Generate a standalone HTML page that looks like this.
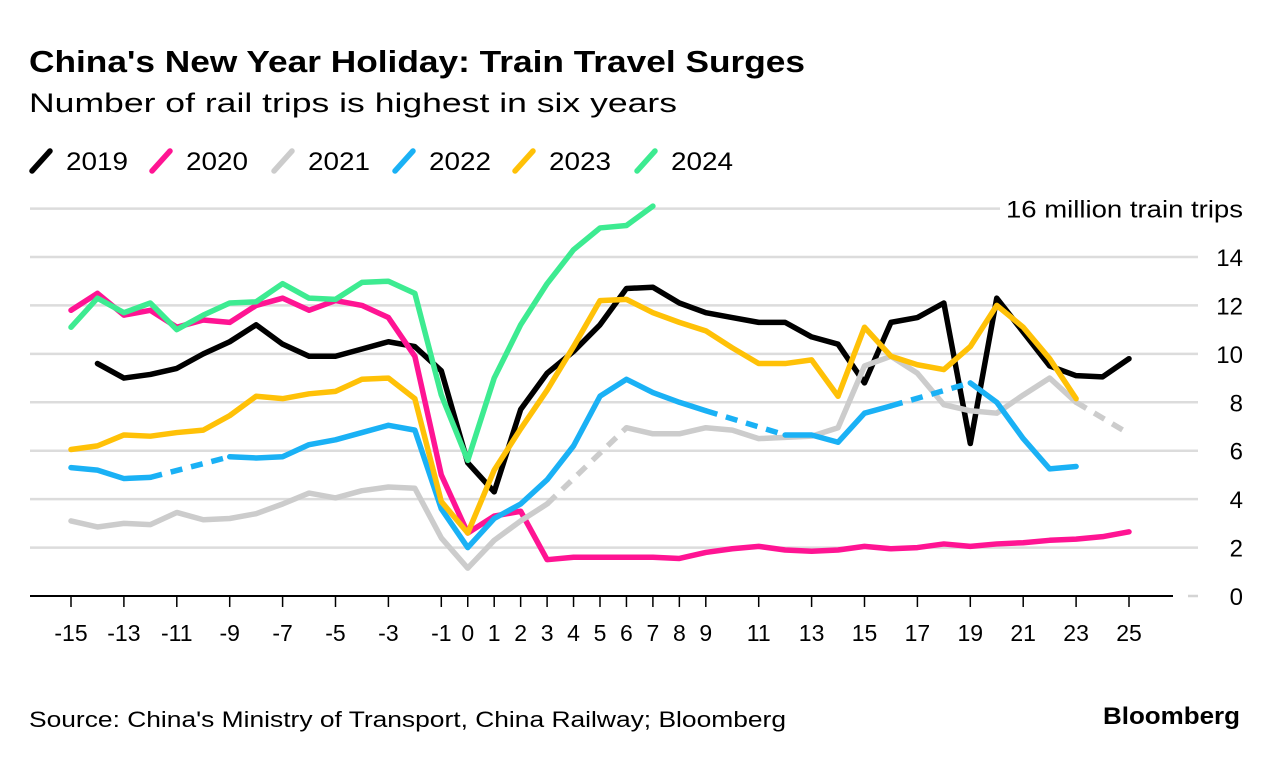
<!DOCTYPE html>
<html><head><meta charset="utf-8"><style>
body{margin:0;background:#fff;font-family:"Liberation Sans",sans-serif;}
#wrap{position:relative;width:1279px;height:760px;overflow:hidden;}
</style></head><body>
<div id="wrap">
<svg id="chart" width="1279" height="760" xmlns="http://www.w3.org/2000/svg">
<text x="29" y="72" font-size="31" font-weight="bold" fill="#000" textLength="776" lengthAdjust="spacingAndGlyphs">China's New Year Holiday: Train Travel Surges</text>
<text x="29" y="112" font-size="27" fill="#000" textLength="648" lengthAdjust="spacingAndGlyphs">Number of rail trips is highest in six years</text>
<g id="legend"></g>
<g id="grid"></g>
<g id="series"></g>
<g id="xaxis"></g>
<text x="29" y="727" font-size="22" fill="#000" textLength="757" lengthAdjust="spacingAndGlyphs">Source: China's Ministry of Transport, China Railway; Bloomberg</text>
<text x="1103" y="724" font-size="24" font-weight="bold" fill="#000" textLength="137" lengthAdjust="spacingAndGlyphs">Bloomberg</text>
</svg>
</div>
<script>
const days = [-15,-14,-13,-12,-11,-10,-9,-8,-7,-6,-5,-4,-3,-2,-1,0,1,2,3,4,5,6,7,8,9,10,11,12,13,14,15,16,17,18,19,20,21,22,23,24,25];
const yTicks = [0,2,4,6,8,10,12,14,16];
const xTickLabels = [-15,-13,-11,-9,-7,-5,-3,-1,0,1,2,3,4,5,6,7,8,9,11,13,15,17,19,21,23,25];
const seriesNames = ["2019","2020","2021","2022","2023","2024"];
const seriesColors = ["#000000","#ff1493","#cccccc","#1ab1f5","#ffc107","#3deb91"];
const s2019 = [null,9.6,9.0,9.15,9.4,10.0,10.5,11.2,10.4,9.9,9.9,10.2,10.5,10.3,9.3,5.5,4.3,7.7,9.2,10.1,11.2,12.7,12.75,12.1,11.7,11.5,11.3,11.3,10.7,10.4,8.8,11.3,11.5,12.1,6.3,12.3,10.9,9.5,9.1,9.05,9.8];
const s2020 = [11.8,12.5,11.6,11.8,11.1,11.4,11.3,12.0,12.3,11.8,12.2,12.0,11.5,9.9,5.0,2.6,3.3,3.5,1.5,1.6,1.6,1.6,1.6,1.55,1.8,1.95,2.05,1.9,1.85,1.9,2.05,1.95,2.0,2.15,2.05,2.15,2.2,2.3,2.35,2.45,2.65];
const s2021 = [3.1,2.85,3.0,2.95,3.45,3.15,3.2,3.4,3.8,4.25,4.05,4.35,4.5,4.45,2.4,1.15,2.3,3.1,3.8,null,null,6.95,6.7,6.7,6.95,6.85,6.5,6.55,6.6,6.95,9.5,9.9,9.2,7.9,7.65,7.55,8.3,9.0,8.0,null,6.7];
const s2022 = [5.3,5.2,4.85,4.9,null,null,5.75,5.7,5.75,6.25,6.45,6.75,7.05,6.85,3.6,2.0,3.2,3.8,4.8,6.2,8.25,8.95,8.4,8.0,7.65,null,null,6.65,6.65,6.35,7.55,7.85,null,null,8.8,8.0,6.5,5.25,5.35,null,null];
const s2023 = [6.05,6.2,6.65,6.6,6.75,6.85,7.45,8.25,8.15,8.35,8.45,8.95,9.0,8.15,3.9,2.6,5.2,6.9,8.5,10.3,12.2,12.25,11.7,11.3,10.95,10.25,9.6,9.6,9.75,8.25,11.1,9.9,9.55,9.35,10.3,12.0,11.1,9.8,8.15,null,null];
const s2024 = [11.1,12.3,11.7,12.1,11.0,11.6,12.1,12.15,12.9,12.3,12.25,12.95,13.0,12.5,8.3,5.6,9.0,11.2,12.9,14.3,15.2,15.3,16.1,null,null,null,null,null,null,null,null,null,null,null,null,null,null,null,null,null,null];
const allSeries = [s2019,s2020,s2021,s2022,s2023,s2024];

const NS="http://www.w3.org/2000/svg";
const x = d => 71 + (d + 15) * (1129 - 71) / 40;
const y = v => 596 - v * (596 - 257) / 14;
function mk(tag, attrs, parent){const e=document.createElementNS(NS,tag);for(const k in attrs)e.setAttribute(k,attrs[k]);parent.appendChild(e);return e;}

const grid=document.getElementById('grid');
yTicks.forEach(t=>{
  if(t===0){
    const g=mk('line',{x1:1188,x2:1198,y1:y(0),y2:y(0),stroke:'#d4d4d4','stroke-width':2.5},grid);
    
    
  } else {
    const end = t===16 ? 1000 : 1198;
    const g=mk('line',{x1:30,x2:end,y1:y(t),y2:y(t),stroke:'#dcdcdc','stroke-width':2.5},grid);
    
    
  }
  const lbl = t===16 ? '16 million train trips' : String(t);
  const attrs={x:1243,y:y(t)+9,'font-size':24,'text-anchor':'end',fill:'#000'};
  if(t===16){attrs.textLength=237;attrs.lengthAdjust='spacingAndGlyphs';}
  const tx=mk('text',attrs,grid);
  tx.textContent=lbl;
  
  
});

const ser=document.getElementById('series');
allSeries.forEach((arr,si)=>{
  const g=mk('g',{},ser);
  
  
  let seg=[];
  const flush=()=>{ if(seg.length>1){const p=mk('polyline',{points:seg.join(' '),fill:'none',stroke:seriesColors[si],'stroke-width':5.5,'stroke-linejoin':'round','stroke-linecap':'round'},g);
    
    } seg=[]; };
  arr.forEach((v,i)=>{ if(v===null){flush();} else seg.push(x(days[i])+','+y(v)); });
  flush();
  let last=-1;
  arr.forEach((v,i)=>{
    if(v!==null){
      if(last>=0 && i-last>1){
        const d=mk('line',{x1:x(days[last]),y1:y(arr[last]),x2:x(days[i]),y2:y(v),stroke:seriesColors[si],'stroke-width':5.5,'stroke-dasharray':'12 9'},g);
        
        
      }
      last=i;
    }
  });
});

const xa=document.getElementById('xaxis');
const base=mk('line',{x1:30,x2:1173,y1:596,y2:596,stroke:'#000','stroke-width':2},xa);


xTickLabels.forEach(t=>{
  const tk=mk('line',{x1:x(t),x2:x(t),y1:596,y2:607,stroke:'#000','stroke-width':1.5},xa);
  
  
  const tx=mk('text',{x:x(t),y:641,'font-size':23,'text-anchor':'middle',fill:'#000'},xa);
  tx.textContent=String(t);
  
  
});

const lg=document.getElementById('legend');
const legendX=[30,150,272,393,513,635];
seriesNames.forEach((n,i)=>{
  const g=mk('g',{},lg);
  
  
  mk('line',{x1:legendX[i]+2,y1:171,x2:legendX[i]+20,y2:151,stroke:seriesColors[i],'stroke-width':5.5,'stroke-linecap':'round'},g);
  const t=mk('text',{x:legendX[i]+36,y:170,'font-size':25,fill:'#000',textLength:62,lengthAdjust:'spacingAndGlyphs'},g);
  t.textContent=n;
});
</script>
</body></html>
